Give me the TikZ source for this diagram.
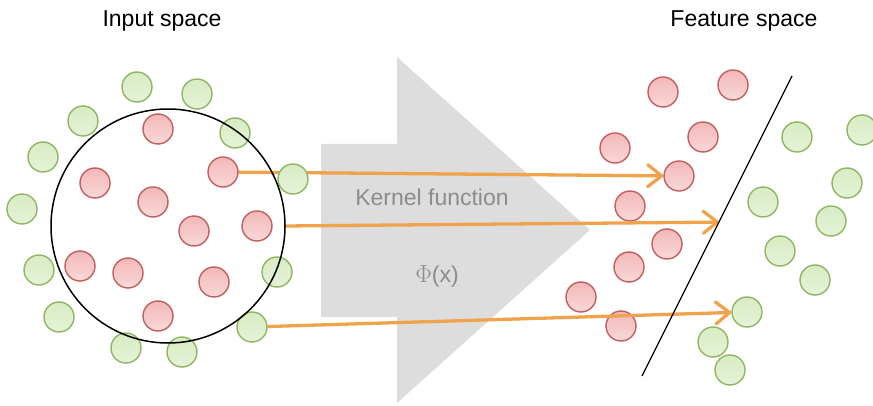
\documentclass[tikz,border=0pt]{standalone}
\usepackage{fontspec}
\setmainfont{Liberation Sans}
\usetikzlibrary{arrows.meta,calc}
\definecolor{redfillA}{HTML}{F3B8B8}
\definecolor{redfillB}{HTML}{F9D8D8}
\definecolor{redline}{HTML}{BF5F5F}
\definecolor{greenfillA}{HTML}{D8ECC3}
\definecolor{greenfillB}{HTML}{E6F2D8}
\definecolor{greenline}{HTML}{90B562}
\definecolor{mapline}{HTML}{F0A24C}
\definecolor{bigarrow}{HTML}{DDDDDD}
\definecolor{labelgray}{HTML}{8C8C8C}
\pgfdeclarelayer{back}
\pgfdeclarelayer{mid}
\pgfsetlayers{back,mid,main}
\tikzset{
  dot/.style={circle, minimum size=30pt, inner sep=0pt, line width=1.4pt},
  reddot/.style={dot, draw=redline, top color=redfillA, bottom color=redfillB},
  greendot/.style={dot, draw=greenline, top color=greenfillA, bottom color=greenfillB},
  title/.style={font=\fontsize{23}{27}\selectfont, anchor=base},
  maplabel/.style={font=\fontsize{23}{27}\selectfont, text=labelgray, anchor=base},
  mapping/.style={draw=mapline, line width=3.3pt,
    -{Straight Barb[length=14pt,width=22pt,line width=3.3pt,round]}},
}
\begin{document}
\begin{tikzpicture}[x=1pt,y=-1pt]
\useasboundingbox (0,0) rectangle (873,406);

% titles
\node[title] (tin) at (162,27) {Input space};
\node[title] (tfeat) at (744,27) {Feature space};

\begin{pgfonlayer}{back}
% broad grey arrow for the kernel mapping
\fill[bigarrow] (321,144) -- (397,144) -- (397,57) -- (590,230)
  -- (397,403) -- (397,317) -- (321,317) -- cycle;
\node[maplabel] (kf) at (432,206) {Kernel function};
\node[maplabel] (phi) at (437,282) {$\Phi$(x)};

% feature space points
\foreach \n/\x/\y in {1/663/92, 2/733/85, 3/703/137, 4/615/148, 5/679/176,
                      6/630/206, 7/667/244, 8/629/267, 9/581/297, 10/621/326}
  \node[reddot] (fr\n) at (\x,\y) {};
\foreach \n/\x/\y in {1/797/137, 2/862/130, 3/847/183, 4/763/202, 5/831/221,
                      6/780/251, 7/815/280, 8/747/312, 9/713/342, 10/730/370}
  \node[greendot] (fg\n) at (\x,\y) {};
\end{pgfonlayer}

% separating hyperplane
\coordinate (sepT) at (792,76);
\coordinate (sepB) at (642,376);
\coordinate (hit) at ($(sepT)!0.487!(sepB)$);

% enclosing circle of the input space
\node[circle, minimum size=234pt, inner sep=0pt] (big) at (168,226) {};

% input space points
\foreach \n/\x/\y in {1/158/129, 2/223/172, 3/95/183, 4/153/202, 5/194/231,
                      6/257/226, 7/80/266, 8/128/273, 9/214/282, 10/158/316}
  \node[reddot] (ir\n) at (\x,\y) {};
\foreach \n/\x/\y in {1/137/87, 2/197/94, 3/83/121, 4/235/133, 5/43/157,
                      6/293/179, 7/22/209, 8/39/270, 9/277/272, 10/59/317,
                      11/252/327, 12/126/348, 13/182/352}
  \node[greendot] (ig\n) at (\x,\y) {};

% mapping arrows, under the input points
\begin{pgfonlayer}{mid}
\draw[mapping] (ir2) -- (fr5);
\draw[mapping] (big.east) -- (hit);
\draw[mapping] (ig11) -- (fg8);
\end{pgfonlayer}

\draw[line width=1.5pt] (big.center) circle[radius=117pt];
\draw[line width=1.3pt] (sepT) -- (sepB);
\end{tikzpicture}
\end{document}
